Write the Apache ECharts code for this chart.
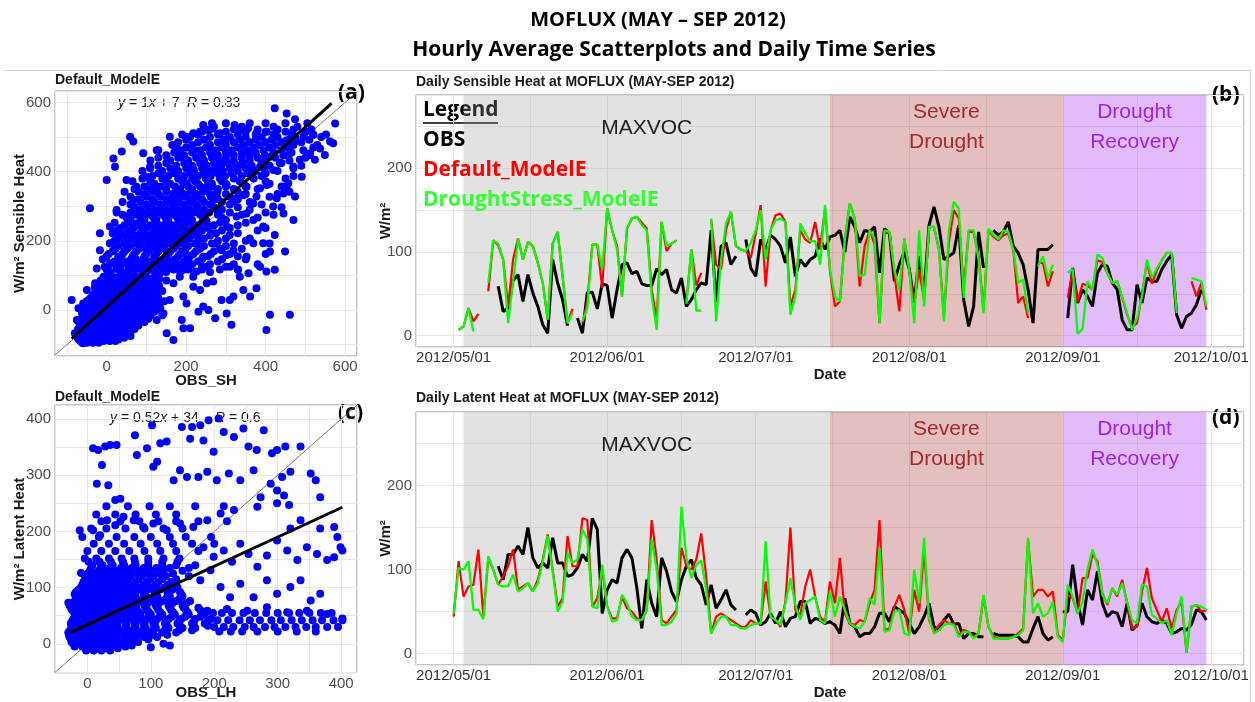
<!DOCTYPE html>
<html><head><meta charset="utf-8">
<script src="https://cdn.jsdelivr.net/npm/echarts@6/dist/echarts.min.js"></script>
<style>html,body{margin:0;padding:0;background:#fff}#c{width:1255px;height:702px}</style>
</head><body><div id="c"></div>
<script>
// ---------------- DATA ----------------
// Daily series, index 0 = 2012/05/01 ... 152 = 2012/09/30
const nDays = 153;
const SH_OBS = [null,null,null,null,null,null,null,null,null,59,
29,33,66,73,41,73,51,35,13,3, 91,63,43,12,null,21,3,52,52,32,
62,60,21,55,85,87,74,77,62,60, 60,80,73,79,55,51,69,35,43,55,
63,61,126,40,107,111,85,95,null,115, 81,71,115,103,120,115,107,87,118,71,
91,83,91,95,116,103,118,120,126,100, 142,130,111,126,124,130,75,128,122,65,
85,100,80,40,95,50,132,154,130,91, 95,99,132,43,11,35,124,81,null,126,
120,124,136,107,99,85,55,15,103,103, 103,109,null,null,21,81,39,55,47,35,
75,85,83,63,55,19,7,7,61,39, 69,65,65,79,89,97,25,9,23,27, 37,55,null];
const SH_DEF = [null,7,11,33,17,26,null,53,114,108,
91,35,91,116,91,112,107,87,63,19, 110,124,71,15,32,null,15,41,109,109,
57,152,126,107,47,128,140,142,135,128, 55,19,136,101,110,114,null,40,103,60,
75,null,138,85,79,126,148,107,103,101, 93,122,156,59,126,144,146,136,35,55,
126,115,111,136,103,152,77,35,41,115, 158,140,59,107,126,109,15,122,124,73,
29,116,79,39,79,43,130,130,103,23, 111,150,140,55,124,124,95,30,126,118,
114,120,122,103,39,47,21,null,87,87, 59,77,null,null,45,78,40,62,60,55,
90,88,75,63,65,45,25,10,15,50, 88,62,78,90,99,99,30,null,null,65, 47,63,31];
const SH_DRY = [null,7,11,33,5,null,null,63,114,110,
91,15,65,116,91,112,107,87,63,19, 110,124,71,15,27,null,17,33,109,109,
79,152,126,103,47,128,140,142,132,126, 47,7,136,107,110,114,null,38,103,30,
30,null,140,17,91,134,148,107,103,101, 111,126,150,91,126,138,140,136,25,47,
134,122,113,113,85,156,79,47,41,115, 158,140,71,73,126,116,15,126,124,79,
55,116,79,15,126,35,130,130,103,17, 126,160,152,45,126,126,91,27,128,120,
115,126,124,103,63,67,27,null,83,95, 69,85,null,null,75,80,2,8,65,55,
97,93,75,63,65,47,27,7,21,47, 91,69,81,90,99,99,27,null,null,69, 67,65,35];

const LH_OBS = [null,null,null,null,null,null,null,null,null,104,
88,118,118,128,118,150,114,102,108,102, 138,108,108,92,94,102,118,110,161,148,
48,76,88,84,114,124,114,78,30,88, 60,44,114,98,74,62,88,104,112,90,
82,58,82,54,64,76,58,52,null,46, 52,48,34,38,48,36,50,32,42,44,
62,62,36,42,40,36,38,34,24,66, 36,32,20,24,24,32,48,48,38,56,
52,48,36,24,32,44,60,32,28,40, 47,35,36,18,24,24,20,20,null,24,
22,22,22,22,20,14,14,30,44,24, 16,20,null,50,50,106,62,34,76,64,
98,60,44,50,48,32,60,28,34,60, 44,38,36,40,36,24,26,30,28,35, 52,50,40];
const LH_DEF = [44,110,68,80,82,124,44,114,100,82,
92,104,124,76,80,84,74,88,112,142, 100,56,66,140,104,104,161,159,56,66,
100,56,42,42,68,54,50,42,40,52, 159,112,40,36,44,52,126,104,100,112,
143,92,24,44,48,44,40,36,32,32, 40,36,36,86,44,40,32,62,150,52,
46,80,100,68,44,38,86,60,114,48, 36,34,40,38,60,76,159,28,30,56,
70,52,24,76,50,124,40,26,34,40, 36,36,22,28,26,20,24,68,32,20,
18,18,18,20,24,30,135,68,76,76, 68,74,22,16,70,66,48,90,90,118,
110,72,58,78,68,88,60,30,32,74, 102,66,52,38,54,30,52,62,1,56, 58,50,52];
const LH_DRY = [48,102,100,110,52,52,41,116,100,82,
80,80,94,74,78,84,74,84,110,140, 98,50,62,120,108,112,148,136,56,54,
106,56,38,40,70,60,44,40,40,52, 136,100,34,34,38,48,175,114,90,106,
111,76,24,36,44,44,34,34,30,30, 34,36,36,134,44,40,34,60,90,58,
40,60,64,68,40,36,74,44,68,52, 36,32,30,38,66,58,126,26,28,50,
52,24,22,100,60,138,42,24,28,34, 36,34,20,26,26,18,24,70,32,18,
18,18,18,20,22,28,138,48,60,44, 48,62,20,14,82,68,48,62,100,124,
106,70,60,78,70,84,62,40,36,82, 80,46,42,36,40,22,48,68,1,56, 58,56,52];

// Scatter (a): rows [y, x1, x2, ...] for the dense parts, plus individual [x, y] points
const SH_rows = [
[-95,-62,-50,-35,-20],[-85,-70,-58,-45,-30,-15,0,15,30],[-75,-75,-62,-50,-38,-25,-12,2,18,35,60],
[-65,-68,-55,-42,-30,-18,-5,10,25,40,55],[-55,-72,-60,-48,-35,-22,-10,5,20,35,50,70],
[-45,-65,-52,-40,-28,-15,-2,12,28,42,58,80],[-35,-70,-58,-45,-32,-20,-8,8,22,38,52,68,95],
[-25,-62,-50,-38,-25,-12,2,16,30,45,60,78,105],[-15,-55,-42,-30,-18,-5,10,24,38,52,68,85,110,140],
[-5,-60,-48,-35,-22,-8,6,20,34,48,62,78,95,120],[5,-52,-40,-28,-15,-2,12,26,40,55,70,88,110,135],
[15,-45,-32,-20,-6,8,22,36,50,65,82,100,125],[25,-50,-38,-25,-12,2,16,30,44,58,74,92,115,145],
[35,-40,-28,-15,-2,12,26,40,54,70,88,108,130],[45,-33,-20,-8,6,20,34,48,62,78,96,120],
[55,-25,-12,2,16,30,44,58,74,92,112,140],[65,-30,-18,-5,8,22,36,50,66,84,104,128],
[75,-10,4,18,32,46,60,76,95,118],[85,-15,0,14,28,42,58,74,92,115,150],[95,2,16,30,44,60,78,98,120],
[110,10,40,70,100,125,150,185,220,260],[125,-5,25,55,85,115,140,170,200,240,300],
[140,20,50,80,110,135,160,195,230,280],[155,0,35,65,95,120,150,180,210,255,330],
[170,15,45,75,105,130,160,190,225,270],[185,30,60,90,120,145,175,205,245,300],
[200,20,50,80,110,140,165,195,230,280,350],[215,40,70,100,130,155,185,215,260],
[230,25,55,90,120,150,175,205,240,290,380],[245,45,80,110,140,165,195,230,270,330],
[260,60,95,125,155,185,215,250,300],[275,40,75,110,140,170,200,235,280,340,420],
[290,85,120,150,180,210,245,290,360],[305,60,100,135,165,195,225,260,310,390],
[320,80,115,150,180,210,240,280,330],[335,95,130,165,195,225,260,300,350,430],
[350,70,110,150,185,215,245,280,320,380],[365,120,160,195,230,265,300,345,410],
[380,90,140,180,215,250,285,320,370,450],[395,130,170,210,245,280,315,355,400],
[410,110,160,200,240,275,310,350,395,470],[425,150,195,235,270,305,345,390,440],
[440,130,180,225,265,300,340,380,425,500],[455,170,215,260,300,340,375,420,465],
[470,200,250,290,330,370,410,455,520],[485,180,230,280,320,360,400,440,490],
[500,210,260,310,350,390,430,475,540],[515,240,300,350,400,450,500],[530,270,340,420,480],
[-90,-66,-54,-40,-26,-8,8,22],[-80,-73,-64,-52,-41,-33,-20,-6,8,24,44],[-70,-72,-58,-46,-36,-24,-10,4,17,32,48],
[-60,-70,-56,-44,-28,-16,-2,14,28,42,62],[-50,-68,-57,-44,-30,-18,-5,8,24,38,52,64],[-40,-62,-50,-38,-24,-10,4,18,32,46,62,74],
[-30,-66,-54,-42,-28,-16,-4,12,26,40,56,72,88],[-20,-58,-46,-34,-20,-6,8,20,35,50,64,80,98],[-10,-62,-50,-37,-24,-12,3,16,30,44,58,72,90,104],
[0,-56,-44,-32,-18,-4,9,23,37,51,66,82,100,125],[10,-48,-36,-24,-10,4,18,32,47,62,77,94,118],[20,-42,-28,-16,-2,12,26,40,55,70,88,106,132],
[30,-44,-32,-20,-7,8,22,36,50,64,80,98,122],[40,-36,-24,-11,2,16,30,44,58,74,92,114],[50,-29,-16,-3,11,25,39,53,68,86,104,126],
[60,-22,-8,6,20,34,48,64,80,98,118],[70,-20,-7,10,26,40,54,70,88,108,132],[80,-8,8,22,36,52,67,84,104,128],[90,-4,10,24,38,52,68,86,108,132],
[117,0,28,58,88,112,138,168,205,240,285,330],[132,8,38,68,98,128,152,185,215,260,320,380],
[147,-10,30,62,92,122,145,172,205,240,290,350],[162,5,40,70,100,125,155,185,218,262,310,400],
[177,22,52,82,112,138,168,198,235,285,340],[192,10,45,75,105,132,160,190,222,265,320,410],
[207,30,62,92,122,148,178,208,245,300,360],[222,15,50,85,115,142,170,200,232,275,330],
[237,35,68,100,130,158,188,218,255,310,400],[252,20,55,90,122,150,180,210,240,285,350],
[267,50,85,118,148,178,208,242,290,380],[282,25,60,95,128,158,188,220,258,310,400],
[297,70,105,138,168,198,230,270,330,440],[312,40,85,120,152,182,212,245,290,360],
[327,60,100,135,168,198,228,262,310,410],[342,45,80,115,150,182,212,242,278,330,460],
[357,95,135,172,205,235,265,300,350,440],[372,65,110,150,190,222,255,290,335,400],
[387,115,155,195,230,262,298,340,390,470],[402,90,140,180,220,258,292,330,375,430],
[417,130,175,215,252,288,325,365,410,490],[432,110,160,205,245,282,320,360,400,460],
[447,150,195,240,280,320,358,398,445,510],[462,130,185,235,275,315,355,395,440,495],
[477,165,215,260,300,345,385,425,470,530],[492,200,245,295,335,375,415,460,510],
[507,190,230,280,330,375,420,465,520],[522,260,320,380,430,470,515],[540,300,360,400,450,505]];
const SH_points = [[423,583],[453,568],[474,551],[575,539],[265,540],[243,535],[322,535],
[201,501],[218,511],[235,515],[252,520],[268,525],[285,511],[310,496],[335,520],[356,525],[377,511],[403,515],[428,501],[453,491],[474,487],[495,501],[520,506],[562,487],[59,501],[159,501],[570,482],[552,507],
[67,487],[92,453],[38,458],[17,438],[126,462],[151,443],[176,467],[197,438],[222,462],[243,434],[268,458],[289,424],[314,453],[335,419],[361,448],[386,414],[411,443],[436,424],[461,453],[486,434],[512,453],[537,467],[549,448],[524,434],[109,414],[168,405],[218,409],[268,405],[319,409],[369,405],[419,405],[470,414],
[21,414],[0,376],[50,376],[75,356],[101,385],[126,347],[151,371],[176,337],[201,366],[226,332],[252,356],[277,328],[302,361],[327,323],[352,356],[377,328],[403,361],[428,323],[453,356],[491,385],[474,328],[67,318],[117,313],[168,318],[218,313],[268,318],[319,313],[369,308],[419,299],[445,337],[457,366],[386,352],[344,332],
[-42,294],[25,289],[50,270],[75,250],[101,279],[126,241],[151,270],[176,231],[201,260],[226,222],[252,250],[277,289],[302,241],[327,270],[352,279],[369,260],[394,241],[445,279],[470,260],[-17,222],[8,241],[34,217],[63,231],[92,212],[151,217],[201,212],[268,222],[310,217],[423,217],[243,279],
[-25,120],[-17,173],[8,193],[29,154],[50,183],[75,145],[101,173],[126,135],[151,169],[176,125],[201,159],[226,193],[243,154],[277,193],[289,173],[319,173],[302,159],[394,193],[411,169],[449,169],[331,116],[310,125],[386,125],[226,111],[8,135],[34,116],[67,125],[109,116],[151,120],[193,116],[252,125],[352,154],[369,193],
[-29,77],[-88,29],[-50,58],[-34,29],[-17,67],[-8,96],[235,58],[252,77],[268,82],[289,29],[319,39],[310,29],[344,58],[361,39],[377,63],[357,106],[335,96],[402,111],[423,116],[218,96],[193,39],[134,106],[92,106],[50,106],[0,29],[-59,19],[-71,5],[201,19],[218,67],[184,96],[168,77],[159,29],
[-55,-19],[-59,-96],[-67,-58],[-50,-48],[-38,-77],[168,-87],[151,-67],[189,-29],[193,-53],[210,-53],[231,-5],[243,10],[256,0],[273,-24],[302,-10],[314,-43],[411,-14],[402,-58],[461,-14],[-75,-29],[-80,-67],[-46,-87],[143,-10],[126,-29],[113,0],[92,14],[67,19],[126,19]];

// Scatter (c)
const LH_rows = [
[-12,-2,10,22,36],[-5,-20,-8,4,16,28,42,60],[3,-25,-14,-2,10,22,34,48,64,80],
[12,-28,-16,-4,8,20,32,45,58,72,90,110],[20,-30,-18,-6,6,18,30,42,55,68,82,98,118,140],
[28,-24,-12,0,12,24,36,48,62,76,92,108,128,150,170],[36,-26,-14,-2,10,22,34,46,60,74,88,104,122,142,165,185],
[44,-22,-10,2,14,26,38,50,64,78,94,110,128,148,170,195],[52,-18,-6,6,18,30,42,56,70,84,100,118,138,160,185],
[60,-24,-12,0,12,24,36,50,64,78,94,112,132,155,178],[68,-28,-16,-4,8,20,32,46,60,74,90,108,128,150],
[76,-20,-8,4,16,28,40,54,68,84,100,118,140,162],[84,-14,-2,10,22,34,48,62,76,92,110,130,150],
[92,-18,-6,6,18,30,44,58,72,88,106,126,146],[100,-10,2,14,26,40,54,68,84,102,122,142],
[110,-6,6,18,32,46,60,76,94,112,132],[120,-2,10,24,38,52,68,86,104,124,160],
[130,4,18,32,48,64,82,100,120,150],[140,8,24,40,58,76,96,118,140,170],
[152,-4,14,34,54,74,96,120,145],[165,0,22,44,66,90,115,140,175],[178,10,34,58,84,110,135,165,200],
[190,-8,18,46,74,100,130,155,195],[205,6,30,60,90,120,150],[218,22,52,82,112,140,175,220],
[230,14,44,76,108,140],[245,30,64,98,130,170,215],
[30,200,215,230,248,262,280,295,312,328,345,360,378,395],[42,205,222,240,256,272,290,305,322,338,355,370,388,402],
[55,198,212,228,246,264,282,300,318,334,350,368,385],[22,208,226,244,268,300,330,360],
[-8,4,16,28,48],[0,-22,-10,2,14,26,38,54,70],[8,-26,-14,-2,10,22,34,46,60,76,96],
[16,-29,-17,-5,7,19,31,44,57,70,86,104,126],[24,-27,-15,-3,9,21,33,46,59,72,88,104,122,145,165],
[32,-25,-13,-1,11,23,35,47,61,75,90,106,125,146,168,190],[40,-24,-12,0,12,24,36,48,62,76,91,107,125,145,168,190],
[48,-20,-8,4,16,28,40,53,67,81,97,114,133,154,178],[56,-21,-9,3,15,27,39,53,67,81,97,115,135,158,182],
[64,-26,-14,-2,10,22,34,48,62,76,92,110,130,152,175],[72,-24,-12,0,12,24,36,50,64,79,95,113,134,156],
[80,-17,-5,7,19,31,44,58,72,88,105,124,145],[88,-16,-4,8,20,32,46,60,74,90,108,128,148],
[96,-14,-2,10,22,35,49,63,78,95,114,134],[105,-8,4,16,29,43,57,72,89,107,127],
[115,-4,8,21,35,49,64,81,99,118,140],[125,1,14,28,43,58,75,93,112,135],
[135,6,21,36,53,70,89,109,130,160],[146,2,19,37,56,75,96,118,142]];
const LH_points = [[9,348],[17,345],[28,351],[36,354],[46,354],[23,318],[15,285],[33,282],[44,256],[52,258],[75,371],[78,336],[94,348],[104,315],[110,324],[102,389],[115,357],[125,360],[149,386],[165,386],[162,365],[178,389],[191,398],[183,362],[207,401],[199,342],[231,368],[215,377],[246,383],[254,351],[278,380],[267,345],[291,339],[299,345],[312,351],[336,351],[307,297],[320,306],[289,285],[262,309],[241,291],[223,303],[204,291],[189,306],[175,297],[157,297],[146,309],[136,291],[273,261],[299,273],[310,264],[318,247],[299,250],[268,244],[352,303],[360,291],[367,261],[231,238],[210,232],[189,220],[167,208],[146,214],[125,202],[104,214],[88,208],[73,220],[57,226],[44,211],[31,220],[20,193],[9,202],[-12,202],
[320,205],[336,220],[367,205],[389,208],[394,190],[399,172],[378,149],[362,160],[346,172],[331,149],[315,166],[299,184],[283,157],[268,137],[254,160],[241,178],[228,146],[215,166],[199,155],[183,172],[336,113],[352,77],[367,89],[320,101],[299,89],[283,113],[262,83],[241,107],[225,83],[210,101],[194,131],[178,113],[389,154],[402,166],
[189,59],[220,62],[252,59],[283,65],[315,56],[346,59],[378,53],[402,45],[-30,73],[-20,88],[-10,126],[-25,10],[70,-3],[130,-3],[100,-6],[120,0]];

// Fit lines (end points) and 1:1 lines
const SH_fit = [[-88,-83],[566,597]];
const LH_fit = [[-27,20],[402,243]];
const SH_one = [[-130,-130],[630,630]];
const LH_one = [[-51,-51],[425,425]];

// Period shading
const phases = [
  {label:'MAXVOC', from:[5,3], to:[7,16], fill:'rgba(160,160,160,0.30)', color:'#222222', dist:18},
  {label:'Severe\nDrought', from:[7,16], to:[9,1], fill:'rgba(165,42,42,0.30)', color:'#a52a2a', dist:2},
  {label:'Drought\nRecovery', from:[9,1], to:[9,30], fill:'rgba(160,32,240,0.30)', color:'#a020f0', dist:2}
];
const minorDates = [[5,16,12],[6,16,0],[7,16,12],[8,16,12],[9,16,0]];

// ---------------- BUILD ----------------
const DAY = 86400000;
const T = (m,d,h) => new Date(2012, m-1, d, h||0).getTime();
const dates = Array.from({length:nDays}, (_,i) => new Date(2012, 4, 1+i).getTime());
const tMin = T(5,1) - 7.6*DAY, tMax = T(9,30) + 7.6*DAY;
const pair = arr => dates.map((t,i) => [t, arr[i]]);
const rowsToPts = rows => rows.flatMap(r => r.slice(1).map(x => [x, r[0]]));
const pad = n => (n<10?'0':'')+n;

const FONT = 'Liberation Sans, Arial, sans-serif';
const GRIDC = '#e8e8e8';
const labelEvery = step => v => (Math.abs(v/step - Math.round(v/step)) < 1e-6 ? String(Math.round(v)) : '');
const tickLab = {fontFamily:FONT, fontSize:15, color:'#4d4d4d'};
const nameStyle = {fontFamily:FONT, fontSize:15, fontWeight:'bold', color:'#1a1a1a'};

function valAxis(grid, min, max, split, step, name, gap, isY){
  return {type:'value', gridIndex:grid, min, max, splitNumber:split,
    axisLine:{show:false}, axisTick:{show:false},
    axisLabel:Object.assign({formatter:labelEvery(step), margin: isY?4:3, showMinLabel:true, showMaxLabel:true}, tickLab),
    splitLine:{show:true, lineStyle:{color:GRIDC, width:1}},
    name, nameLocation:'middle', nameGap:gap, nameMoveOverlap:false, nameTextStyle:nameStyle};
}
function timeAxis(grid){
  return {type:'time', gridIndex:grid, min:tMin, max:tMax,
    axisLine:{show:false}, axisTick:{show:false},
    axisLabel:Object.assign({margin:3, formatter: v => {const d=new Date(v);
      return (d.getDate()===1 && d.getHours()===0) ? d.getFullYear()+'/'+pad(d.getMonth()+1)+'/'+pad(d.getDate()) : '';},
      showMinLabel:false, showMaxLabel:false, hideOverlap:false}, tickLab, {color:'#333'}),
    splitLine:{show:true, lineStyle:{color:GRIDC, width:1}},
    name:'Date', nameLocation:'middle', nameGap:20, nameMoveOverlap:false, nameTextStyle:nameStyle};
}
function tsLine(name, arr, xi, color, w, extra){
  return Object.assign({type:'line', name, xAxisIndex:xi, yAxisIndex:xi, data:pair(arr),
    symbol:'none', showSymbol:false, connectNulls:false, silent:true,
    lineStyle:{color, width:w}, itemStyle:{color}}, extra||{});
}
function markers(){
  return {
    markArea:{silent:true, z:1, data: phases.map(p => [
      {name:p.label, xAxis:T(p.from[0],p.from[1]), itemStyle:{color:p.fill},
       label:{show:true, position:'insideTop', distance:p.dist, color:p.color, fontFamily:FONT, fontSize:21, lineHeight:30}},
      {xAxis:T(p.to[0],p.to[1])}])},
    markLine:{silent:true, z:1, symbol:'none', label:{show:false},
      lineStyle:{color:'rgba(0,0,0,0.06)', width:1, type:'solid'},
      data: minorDates.map(m => ({xAxis:T(m[0],m[1],m[2])}))}
  };
}
const scat = (pts, i) => ({type:'scatter', xAxisIndex:i, yAxisIndex:i, data:pts, symbolSize:8,
  itemStyle:{color:'#0000ff', opacity:1}, silent:true, z:2});
const ln = (pts, i, color, w, z) => ({type:'line', xAxisIndex:i, yAxisIndex:i, data:pts, symbol:'none',
  lineStyle:{color, width:w}, silent:true, z, clip:true});

const gridBase = {show:true, borderColor:'#8c8c8c', borderWidth:1, backgroundColor:'#fff', containLabel:false, outerBoundsMode:'none'};
const txt = (x, y, text, o) => ({type:'text', x, y, silent:true,
  style:Object.assign({text, fontFamily:FONT, fontSize:14, fill:'#1a1a1a', verticalAlign:'middle', textAlign:'left'}, o||{})});
const eqRich = {i:{fontStyle:'italic', fontFamily:FONT, fontSize:14, fill:'#1a1a1a'}};
const OS = {fontFamily:'Open Sans', fontWeight:'bold', fill:'#000'};

const option = {
  animation:false,
  backgroundColor:'#fff',
  grid:[
    Object.assign({left:55, top:91, width:302, height:265}, gridBase),
    Object.assign({left:416, top:95, width:828, height:252}, gridBase),
    Object.assign({left:55, top:405, width:302, height:268}, gridBase),
    Object.assign({left:416, top:412, width:828, height:253}, gridBase)
  ],
  xAxis:[
    valAxis(0, -130, 630, 8, 200, 'OBS_SH', 17),
    timeAxis(1),
    valAxis(2, -51, 425, 10, 100, 'OBS_LH', 12),
    timeAxis(3)
  ],
  yAxis:[
    valAxis(0, -133, 633, 8, 200, 'W/m² Sensible Heat', 28, true),
    valAxis(1, -13.5, 287.6, 6, 100, 'W/m²', 23, true),
    valAxis(2, -52, 425, 10, 100, 'W/m² Latent Heat', 28, true),
    valAxis(3, -13.5, 287.6, 6, 100, 'W/m²', 23, true)
  ],
  legend:{
    data:[{name:'OBS', textStyle:{color:'#000000'}},
          {name:'Default_ModelE', textStyle:{color:'#ff0000'}},
          {name:'DroughtStress_ModelE', textStyle:{color:'#33ff33'}}],
    orient:'vertical', left:418, top:125, padding:0, itemGap:0, itemWidth:0, itemHeight:0,
    icon:'rect', selectedMode:false,
    textStyle:{fontFamily:'Open Sans', fontWeight:'bold', fontSize:21, lineHeight:30}
  },
  series:[
    ln(SH_one, 0, '#555555', 0.8, 1),
    scat(rowsToPts(SH_rows).concat(SH_points), 0),
    ln(SH_fit, 0, '#000000', 3, 3),
    ln(LH_one, 2, '#555555', 0.8, 1),
    scat(rowsToPts(LH_rows).concat(LH_points), 2),
    ln(LH_fit, 2, '#000000', 3, 3),
    tsLine('OBS', SH_OBS, 1, '#000000', 3, markers()),
    tsLine('Default_ModelE', SH_DEF, 1, '#ff0000', 2.2),
    tsLine('DroughtStress_ModelE', SH_DRY, 1, '#00ff00', 2.2),
    tsLine('OBS', LH_OBS, 3, '#000000', 3, markers()),
    tsLine('Default_ModelE', LH_DEF, 3, '#ff0000', 2.2),
    tsLine('DroughtStress_ModelE', LH_DRY, 3, '#00ff00', 2.2)
  ],
  graphic:[
    {type:'line', silent:true, shape:{x1:4, y1:70.5, x2:1250, y2:70.5}, style:{stroke:'#d4d4d4', lineWidth:1}},
    {type:'line', silent:true, shape:{x1:1250.5, y1:70, x2:1250.5, y2:702}, style:{stroke:'#d4d4d4', lineWidth:1}},
    txt(658, 20, 'MOFLUX (MAY – SEP 2012)', Object.assign({fontSize:20, textAlign:'center'}, OS)),
    txt(674, 50, 'Hourly Average Scatterplots and Daily Time Series', Object.assign({fontSize:21, textAlign:'center'}, OS)),
    txt(55, 80, 'Default_ModelE', {fontWeight:'bold'}),
    txt(55, 397, 'Default_ModelE', {fontWeight:'bold'}),
    txt(416, 82, 'Daily Sensible Heat at MOFLUX (MAY-SEP 2012)', {fontWeight:'bold'}),
    txt(416, 398, 'Daily Latent Heat at MOFLUX (MAY-SEP 2012)', {fontWeight:'bold'}),
    txt(118, 103, '{i|y} = 1{i|x} + 7', {rich:eqRich}),
    txt(187, 103, '{i|R} = 0.83', {rich:eqRich}),
    txt(110, 418, '{i|y} = 0.52{i|x} + 34', {rich:eqRich}),
    txt(215, 418, '{i|R} = 0.6', {rich:eqRich}),
    txt(338, 93, '(a)', Object.assign({fontSize:21}, OS)),
    txt(338, 413, '(c)', Object.assign({fontSize:21}, OS)),
    txt(1212, 95, '(b)', Object.assign({fontSize:21}, OS)),
    txt(1212, 418, '(d)', Object.assign({fontSize:21}, OS)),
    txt(423, 110, 'Legend', Object.assign({fontSize:21}, OS)),
    {type:'line', silent:true, shape:{x1:423, y1:123, x2:498, y2:123}, style:{stroke:'#000', lineWidth:1.5}}
  ]
};
const chart = echarts.init(document.getElementById('c'), null, {renderer:'canvas'});
chart.setOption(option);
</script></body></html>
